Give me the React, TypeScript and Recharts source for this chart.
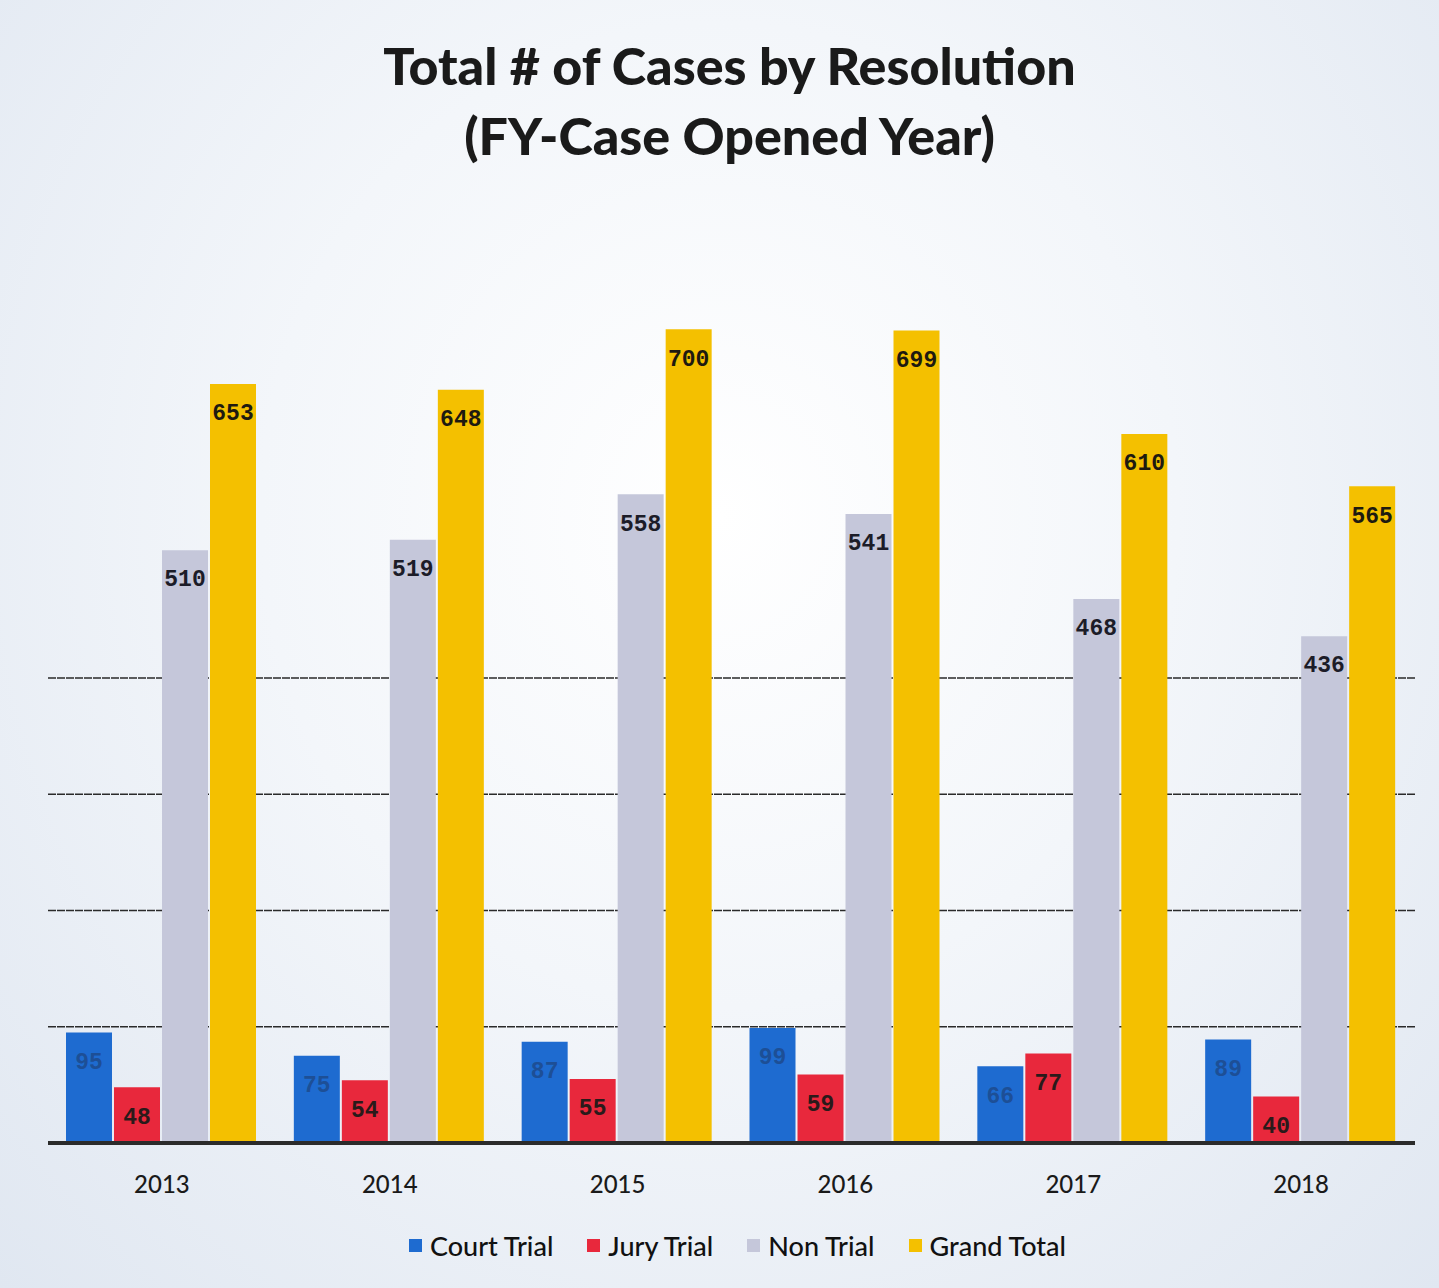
import { BarChart, Bar, XAxis, YAxis, CartesianGrid, LabelList } from 'recharts';

const YEARS = ['2013', '2014', '2015', '2016', '2017', '2018'];
const COURT_TRIAL = [95, 75, 87, 99, 66, 89];
const JURY_TRIAL = [48, 54, 55, 59, 77, 40];
const NON_TRIAL = [510, 519, 558, 541, 468, 436];
const GRAND_TOTAL = [653, 648, 700, 699, 610, 565];
const GRID_TICKS = [100, 200, 300, 400];

const SERIES = [
  { key: 'court', name: 'Court Trial', color: '#1e6bd0', label: '#1d4f96' },
  { key: 'jury', name: 'Jury Trial', color: '#e8283c', label: '#2a1a1a' },
  { key: 'non', name: 'Non Trial', color: '#c5c7da', label: '#1c1c28' },
  { key: 'total', name: 'Grand Total', color: '#f4c000', label: '#1e1a10' },
];

const data = YEARS.map((year, i) => ({
  year,
  court: COURT_TRIAL[i],
  jury: JURY_TRIAL[i],
  non: NON_TRIAL[i],
  total: GRAND_TOTAL[i],
}));

export default function App() {
  return (
    <div
      style={{
        position: 'absolute',
        left: 0,
        top: 0,
        width: 1439,
        height: 1288,
        overflow: 'hidden',
        background: 'radial-gradient(ellipse at 50% 40%, #ffffff 0%, #f3f6fa 45%, #e0e7f1 100%)',
        fontFamily: 'Lato, "Open Sans", sans-serif',
      }}
    >
      <div
        style={{
          position: 'absolute',
          top: 30,
          left: 10,
          width: 1439,
          textAlign: 'center',
          fontWeight: 900,
          fontSize: 52,
          lineHeight: '70px',
          color: '#1a1a1a',
        }}
      >
        Total # of Cases by Resolution
        <br />
        (FY-Case Opened Year)
      </div>

      <BarChart
        width={1439}
        height={1288}
        data={data}
        margin={{ top: 213, right: 24, left: 48, bottom: 85 }}
        barCategoryGap={18}
        barGap={2}
      >
        <CartesianGrid
          yAxisId="cases"
          vertical={false}
          syncWithTicks
          stroke="#2a2a2a"
          strokeWidth={1.5}
          strokeDasharray="8 1"
        />
        <YAxis yAxisId="cases" hide domain={[0, 800]} ticks={GRID_TICKS} />
        <XAxis
          dataKey="year"
          height={60}
          axisLine={{ stroke: '#2b2b2b', strokeWidth: 4 }}
          tickLine={false}
          tickMargin={27}
          tick={{ fill: '#1a1a1a', fontSize: 24, fontWeight: 500, fontFamily: 'Lato, sans-serif' }}
        />
        {SERIES.map(s => (
          <Bar key={s.key} yAxisId="cases" dataKey={s.key} name={s.name} fill={s.color} isAnimationActive={false}>
            <LabelList
              dataKey={s.key}
              position="insideTop"
              offset={20}
              fill={s.label}
              style={{ fontSize: 23, fontWeight: 700, fontFamily: '"Liberation Mono", monospace' }}
            />
          </Bar>
        ))}
      </BarChart>

      <div
        style={{
          position: 'absolute',
          top: 1229,
          left: 18,
          width: 1439,
          display: 'flex',
          justifyContent: 'center',
          gap: 34,
          fontSize: 27,
          fontWeight: 500,
          color: '#111',
        }}
      >
        {SERIES.map(s => (
          <div key={s.key} style={{ display: 'flex', alignItems: 'center' }}>
            <span style={{ width: 13, height: 13, background: s.color, marginRight: 8, display: 'inline-block' }} />
            {s.name}
          </div>
        ))}
      </div>
    </div>
  );
}
